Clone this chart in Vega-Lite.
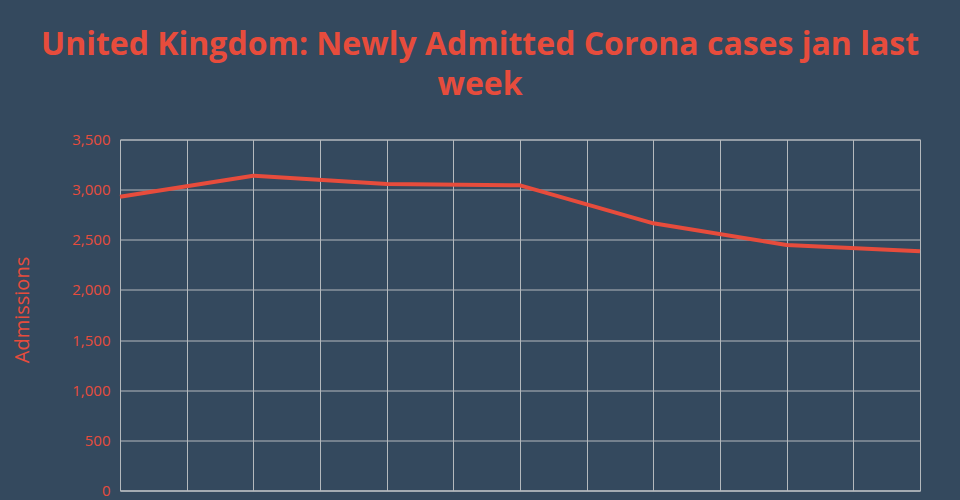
{
  "$schema": "https://vega.github.io/schema/vega-lite/v6.json",
  "autosize": {"type": "none"},
  "width": 800,
  "height": 351,
  "padding": {"left": 120, "top": 139.5, "right": 40, "bottom": 9.5},
  "background": "#34495e",
  "title": {
    "text": ["United Kingdom: Newly Admitted Corona cases jan last", "week"],
    "anchor": "middle",
    "dx": -40,
    "offset": 31,
    "font": "Open Sans",
    "fontWeight": "bold",
    "fontSize": 32,
    "lineHeight": 40,
    "color": "#e74c3c"
  },
  "config": {
    "view": {"stroke": "#b4b9bd", "strokeWidth": 1},
    "axis": {"gridColor": "#b4b9bd", "gridOpacity": 1, "gridWidth": 1, "domainColor": "#b4b9bd", "ticks": false}
  },
  "data": {
    "values": [
      {"day": 25, "admissions": 2930},
      {"day": 26, "admissions": 3139},
      {"day": 27, "admissions": 3056},
      {"day": 28, "admissions": 3043},
      {"day": 29, "admissions": 2664},
      {"day": 30, "admissions": 2448},
      {"day": 31, "admissions": 2385}
    ]
  },
  "mark": {"type": "line", "color": "#e74c3c", "strokeWidth": 4, "strokeJoin": "round"},
  "encoding": {
    "x": {
      "field": "day",
      "type": "quantitative",
      "scale": {"domain": [25, 31], "nice": false, "zero": false},
      "axis": {
        "values": [25, 25.5, 26, 26.5, 27, 27.5, 28, 28.5, 29, 29.5, 30, 30.5, 31],
        "labels": false,
        "title": null,
        "grid": true
      }
    },
    "y": {
      "field": "admissions",
      "type": "quantitative",
      "scale": {"domain": [0, 3500], "nice": false},
      "axis": {
        "values": [0, 500, 1000, 1500, 2000, 2500, 3000, 3500],
        "format": ",d",
        "title": "Admissions",
        "titleFont": "Open Sans",
        "titleFontWeight": "normal",
        "titleFontSize": 20,
        "titleColor": "#e74c3c",
        "titleX": -98,
        "titleY": 170,
        "titleAlign": "center",
        "titleBaseline": "middle",
        "labelFont": "Open Sans",
        "labelFontSize": 15,
        "labelColor": "#e74c3c",
        "labelPadding": 10,
        "domain": true
      }
    }
  }
}
